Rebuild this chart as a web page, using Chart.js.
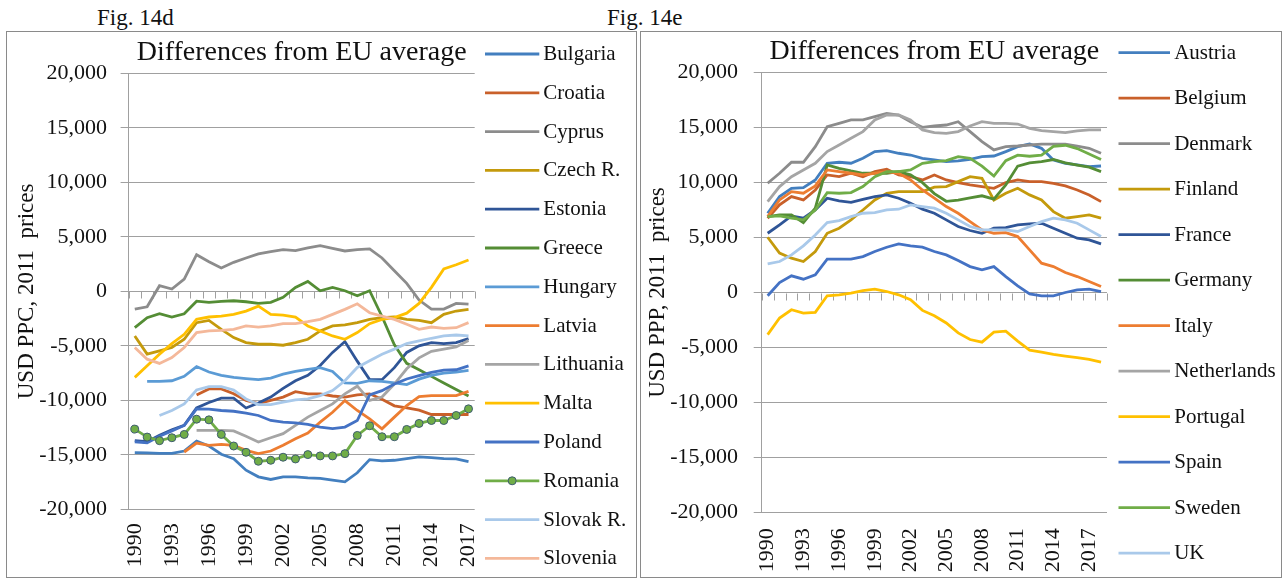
<!DOCTYPE html>
<html><head><meta charset="utf-8">
<script src="https://cdn.jsdelivr.net/npm/chart.js@4.4.1/dist/chart.umd.min.js"></script>
<style>
html,body{margin:0;padding:0;background:#fff;}
body{width:1284px;height:581px;position:relative;overflow:hidden;font-family:'Liberation Serif','Times New Roman',serif;}
.fig{position:absolute;font-size:23px;line-height:23px;color:#111;white-space:nowrap;}
.box{position:absolute;border:1px solid #8a8a8a;box-sizing:border-box;}
canvas{position:absolute;}
</style></head><body>
<div class="fig" style="left:97px;top:6px">Fig. 14d</div>
<div class="fig" style="left:607px;top:6px">Fig. 14e</div>
<div class="box" style="left:6px;top:31px;width:631px;height:547px"></div>
<div class="box" style="left:640px;top:31px;width:642px;height:547px"></div>
<canvas id="c1" width="628" height="544" style="left:7px;top:32px"></canvas>
<canvas id="c2" width="639" height="544" style="left:641px;top:32px"></canvas>
<script>
// ---------- categories ----------
const yearsD = ['1990','1991','1992','1993','1994','1995','1996','1997','1998','1999','2000','2001','2002','2003','2004','2005','2006','2007','2008','2009','2010','2011','2012','2013','2014','2015','2016','2017'];
const yearsE = ['1990','1991','1992','1993','1994','1995','1996','1997','1998','1999','2000','2001','2002','2003','2004','2005','2006','2007','2008','2009','2010','2011','2012','2013','2014','2015','2016','2017','2018'];
const yTicks = [-20000,-15000,-10000,-5000,0,5000,10000,15000,20000];

// ---------- Fig. 14d series (USD PPC, 2011 prices) ----------
const bulgaria  = [-14800,-14830,-14860,-14860,-14650,-13730,-14190,-14950,-15350,-16410,-17020,-17260,-17020,-17020,-17110,-17170,-17320,-17480,-16650,-15440,-15560,-15500,-15350,-15190,-15260,-15350,-15380,-15620];
const croatia   = [null,null,null,null,null,-9500,-8950,-8950,-9400,-10000,-10300,-10000,-9700,-9200,-9400,-9400,-9600,-9700,-9500,-9400,-9900,-10500,-10700,-10900,-11300,-11300,-11300,-11300];
const cyprus    = [-1625,-1410,520,215,1135,3370,2730,2150,2670,3070,3435,3650,3830,3740,3990,4200,3960,3710,3830,3900,3070,1900,740,-800,-1625,-1625,-1100,-1165];
const czech     = [-4090,-5760,-5460,-5150,-4390,-2870,-2660,-3480,-4240,-4700,-4850,-4850,-4940,-4700,-4390,-3630,-3170,-3080,-2870,-2570,-2410,-2350,-2570,-2660,-2870,-2110,-1800,-1650];
const estonia   = [-13700,-13800,-13200,-12700,-12300,-10700,-10200,-9800,-9800,-10700,-10250,-9700,-8900,-8200,-7700,-6800,-5600,-4600,-6400,-8100,-8100,-7000,-5600,-5000,-4700,-4800,-4700,-4330];
const greece    = [-3330,-2410,-2050,-2350,-2050,-900,-1010,-920,-860,-950,-1100,-1010,-550,370,920,60,370,60,-400,60,-2300,-4900,-6600,-7200,-7800,-8400,-9000,-9600];
const hungary   = [null,-8250,-8250,-8200,-7800,-6900,-7400,-7700,-7900,-8000,-8100,-7950,-7600,-7350,-7150,-7000,-7350,-8400,-8450,-8200,-8250,-8400,-8550,-8050,-7700,-7500,-7400,-7250];
const latvia    = [null,null,null,null,-14740,-13920,-14130,-14040,-14130,-14590,-14890,-14650,-14130,-13520,-13000,-12000,-11090,-10020,-10930,-11700,-12610,-11540,-10480,-9660,-9570,-9570,-9570,-9170];
const lithuania = [null,null,null,null,null,-12760,-12760,-12760,-12800,-13300,-13830,-13430,-13060,-12300,-11540,-10930,-10330,-9400,-8700,-10000,-9700,-8500,-7100,-6100,-5500,-5300,-5100,-4500];
const malta     = [-7890,-6830,-5760,-4790,-3940,-2570,-2350,-2260,-2110,-1810,-1350,-2110,-2170,-2350,-3170,-3630,-4090,-4390,-3780,-2960,-2570,-2400,-2000,-1100,370,2060,2450,2880];
const poland    = [-13800,-13900,-13300,-12800,-12300,-10780,-10800,-10930,-11000,-11180,-11390,-11850,-12000,-12060,-12210,-12450,-12600,-12450,-11850,-9500,-9110,-8500,-8040,-7740,-7430,-7220,-7190,-6830];
const romania   = [-12640,-13370,-13700,-13430,-13130,-11730,-11790,-13130,-14190,-14770,-15590,-15500,-15220,-15380,-14980,-15100,-15100,-14890,-13220,-12330,-13340,-13340,-12670,-12120,-11850,-11850,-11390,-10780];
const slovakR   = [null,null,-11390,-10930,-10330,-9050,-8740,-8740,-9050,-9870,-10390,-10390,-10170,-9960,-9870,-9570,-9110,-8200,-6980,-6370,-5760,-5300,-4790,-4540,-4300,-4090,-4000,-4090];
const slovenia  = [-5150,-6220,-6610,-6070,-5150,-3780,-3630,-3570,-3480,-3170,-3270,-3170,-2960,-2960,-2780,-2570,-2110,-1650,-1140,-1960,-2260,-2570,-3020,-3480,-3270,-3390,-3330,-2870];

// ---------- Fig. 14e series (USD PPP, 2011 prices) ----------
const austria     = [7210,8730,9480,9540,10240,11760,11850,11760,12210,12820,12910,12670,12510,12210,12060,11910,11970,12120,12360,12420,12820,13270,13510,13120,12060,11760,11610,11450,11510];
const belgium     = [6760,7970,8730,8420,9330,10700,10540,10850,10540,11000,11210,10700,10540,10240,10700,10240,10000,9790,9640,9480,10000,10240,10090,10090,9940,9700,9330,8880,8270];
const denmark     = [9940,10850,11850,11850,13270,15090,15390,15700,15700,16000,16300,16150,15540,15030,15150,15240,15540,14640,13730,12970,13270,13330,13420,13510,13510,13510,13330,13120,12670];
const finland     = [5030,3580,3120,2820,3730,5390,5850,6610,7510,8420,9030,9180,9180,9180,9580,9640,10090,10540,10390,8420,9030,9480,8880,8420,7360,6760,6910,7060,6760];
const france      = [5390,6150,6970,6760,7510,8580,8330,8210,8480,8730,8880,8580,8120,7580,7210,6610,6000,5640,5390,5850,5910,6150,6240,6300,5850,5390,4940,4790,4420];
const germany     = [6910,7060,7060,6360,7670,11610,11300,11060,10850,10850,10850,11000,10700,10000,9000,8300,8400,8600,8800,8500,9800,11500,11800,11900,12100,11800,11600,11400,11000];
const italy       = [6910,8420,9180,9030,9700,11150,11000,10850,10700,10850,11000,10850,10240,9330,8580,7820,7210,6450,5700,5390,5450,5090,3880,2670,2360,1820,1450,1000,550];
const netherlands = [8270,9640,10540,11150,11760,12820,13420,14030,14640,15700,16150,16150,15700,14790,14540,14480,14640,15150,15540,15390,15390,15330,14940,14730,14640,14540,14700,14790,14790];
const portugal    = [-3830,-2320,-1570,-1870,-1810,-300,-210,-60,180,300,90,-210,-660,-1630,-2110,-2770,-3680,-4280,-4520,-3610,-3520,-4430,-5240,-5420,-5630,-5780,-5930,-6080,-6330];
const spain       = [-300,910,1520,1210,1610,3030,3030,3030,3270,3730,4120,4420,4240,4120,3730,3420,2910,2360,2060,2360,1450,610,-120,-300,-300,0,240,300,90];
const sweden      = [6910,6970,6760,6610,7510,9090,9030,9090,9640,10540,11000,11000,11150,11760,11910,12000,12360,12200,11500,10600,12000,12500,12400,12500,13300,13400,13100,12600,12100];
const uk          = [2610,2820,3420,4240,5240,6360,6550,6910,7210,7270,7510,7580,7970,7820,7670,7210,6610,6000,5700,5700,5700,5550,6000,6450,6760,6610,6300,5700,5090];

// ---------- names & colours ----------
const namesD = ['Bulgaria','Croatia','Cyprus','Czech R.','Estonia','Greece','Hungary','Latvia','Lithuania','Malta','Poland','Romania','Slovak R.','Slovenia'];
const seriesD = [bulgaria,croatia,cyprus,czech,estonia,greece,hungary,latvia,lithuania,malta,poland,romania,slovakR,slovenia];
const coloursD = ['#437fbf','#c9602a','#8c8c8c','#c49a0c','#2f5597','#548d35','#5b9bd5','#ed7d31','#a5a5a5','#ffc000','#4472c4','#70ad47','#a9c9ea','#f4b89a'];

const namesE = ['Austria','Belgium','Denmark','Finland','France','Germany','Italy','Netherlands','Portugal','Spain','Sweden','UK'];
const seriesE = [austria,belgium,denmark,finland,france,germany,italy,netherlands,portugal,spain,sweden,uk];
const coloursE = ['#437fbf','#c9602a','#8c8c8c','#c49a0c','#2f5597','#548d35','#ed7d31','#a5a5a5','#ffc000','#4472c4','#70ad47','#a9c9ea'];

const FONT = "'Liberation Serif','Times New Roman',serif";
const TXT = '#111111';
const GRID = '#a0a0a0';

Chart.defaults.font.family = FONT;

const zeroTicks = {
  id: 'zeroTicks',
  beforeDatasetsDraw(chart, args, o) {
    const xs = chart.scales.x, ys = chart.scales.y, ctx = chart.ctx;
    const y0 = Math.round(ys.getPixelForValue(0)) + 0.5;
    ctx.save();
    ctx.strokeStyle = o.color; ctx.lineWidth = 1;
    ctx.beginPath();
    for (let i = 0; i <= xs.ticks.length; i++) {
      const px = Math.round(xs.getPixelForValue(i - 0.5)) + 0.5;
      ctx.moveTo(px, y0); ctx.lineTo(px, y0 + o.length);
    }
    ctx.stroke();
    ctx.restore();
  }
};

const sideLegend = {
  id: 'sideLegend',
  afterDraw(chart, args, o) {
    const ctx = chart.ctx;
    ctx.save();
    chart.data.datasets.forEach((ds, i) => {
      const y = o.y0 + i * o.step;
      ctx.strokeStyle = ds.borderColor; ctx.lineWidth = ds.borderWidth; ctx.lineCap = 'butt';
      ctx.beginPath(); ctx.moveTo(o.x0, y); ctx.lineTo(o.x1, y); ctx.stroke();
      if (ds.pointRadius > 0) {
        ctx.beginPath(); ctx.arc((o.x0 + o.x1) / 2, y, ds.pointRadius, 0, Math.PI * 2);
        ctx.fillStyle = ds.pointBackgroundColor; ctx.fill();
        ctx.lineWidth = ds.pointBorderWidth; ctx.strokeStyle = ds.pointBorderColor; ctx.stroke();
      }
      ctx.fillStyle = o.color; ctx.font = o.font;
      ctx.textBaseline = 'middle'; ctx.textAlign = 'left';
      ctx.fillText(ds.label, o.tx, y + 0.5);
    });
    ctx.restore();
  }
};

function build(id, labels, names, series, colours, g, axisTitle) {
  const canvas = document.getElementById(id);
  const W = canvas.width, H = canvas.height;
  const datasets = names.map((n, i) => {
    const ds = {label: n, data: series[i], borderColor: colours[i], backgroundColor: colours[i],
      borderWidth: 2.8, pointRadius: 0, pointHoverRadius: 0, tension: 0, spanGaps: false, order: -i};
    if (n === 'Romania') {
      ds.pointRadius = 4; ds.pointBackgroundColor = '#70ad47'; ds.pointBorderColor = '#3e5c70'; ds.pointBorderWidth = 1;
    }
    return ds;
  });
  const tSize = 28, tLH = tSize * 1.2;
  return new Chart(canvas, {
    type: 'line',
    data: {labels: labels, datasets: datasets},
    plugins: [zeroTicks, sideLegend],
    options: {
      responsive: false, animation: false, devicePixelRatio: 1,
      layout: {padding: {left: 0, top: 0, bottom: 0, right: W - g.right}},
      plugins: {
        legend: {display: false},
        tooltip: {enabled: false},
        title: {display: true, fullSize: false, text: 'Differences from EU average', color: TXT,
          font: {family: FONT, size: tSize, weight: 'normal', lineHeight: 1.2},
          padding: {top: g.titleTop, bottom: g.top - g.titleTop - tLH}},
        zeroTicks: {color: GRID, length: 7},
        sideLegend: g.legend
      },
      scales: {
        x: {
          type: 'category', offset: true,
          grid: {display: false, drawTicks: false},
          border: {display: false},
          ticks: {autoSkip: false, minRotation: 90, maxRotation: 90, padding: g.xPad, color: TXT,
            font: {family: FONT, size: 22},
            callback: function (v, i) { return i % 3 === 0 ? this.getLabelForValue(v) : ''; }},
          afterFit: s => { s.height = H - g.bottom; }
        },
        y: {
          type: 'linear', min: yTicks[0], max: yTicks[yTicks.length - 1],
          afterBuildTicks: s => { s.ticks = yTicks.map(v => ({value: v})); },
          grid: {color: GRID, lineWidth: 1, drawTicks: true, tickLength: 8},
          border: {display: true, color: GRID, width: 1},
          ticks: {padding: g.yPad, color: TXT, font: {family: FONT, size: 22},
            callback: v => Number(v).toLocaleString('en-US')},
          title: {display: true, text: axisTitle, color: TXT, font: {family: FONT, size: 23, weight: 'normal'},
            padding: {top: g.yTitlePad, bottom: 0}},
          afterFit: s => { s.width = g.left; }
        }
      }
    }
  });
}

build('c1', yearsD, namesD, seriesD, coloursD,
  {left: 121.6, right: 467.7, top: 41.5, bottom: 477.3, titleTop: 3.4, xPad: 14, yPad: 13.6, yTitlePad: 6.2,
   legend: {x0: 478, x1: 532.3, tx: 536.3, y0: 22, step: 38.8, color: TXT, font: "21px " + FONT}},
  'USD PPC, 2011  prices');
build('c2', yearsE, namesE, seriesE, coloursE,
  {left: 120.7, right: 466, top: 40.7, bottom: 480.3, titleTop: 2.7, xPad: 16, yPad: 15.7, yTitlePad: 3.2,
   legend: {x0: 477.5, x1: 529, tx: 533.2, y0: 20.7, step: 45.5, color: TXT, font: "21px " + FONT}},
  'USD PPP, 2011  prices');
</script>
</body></html>
